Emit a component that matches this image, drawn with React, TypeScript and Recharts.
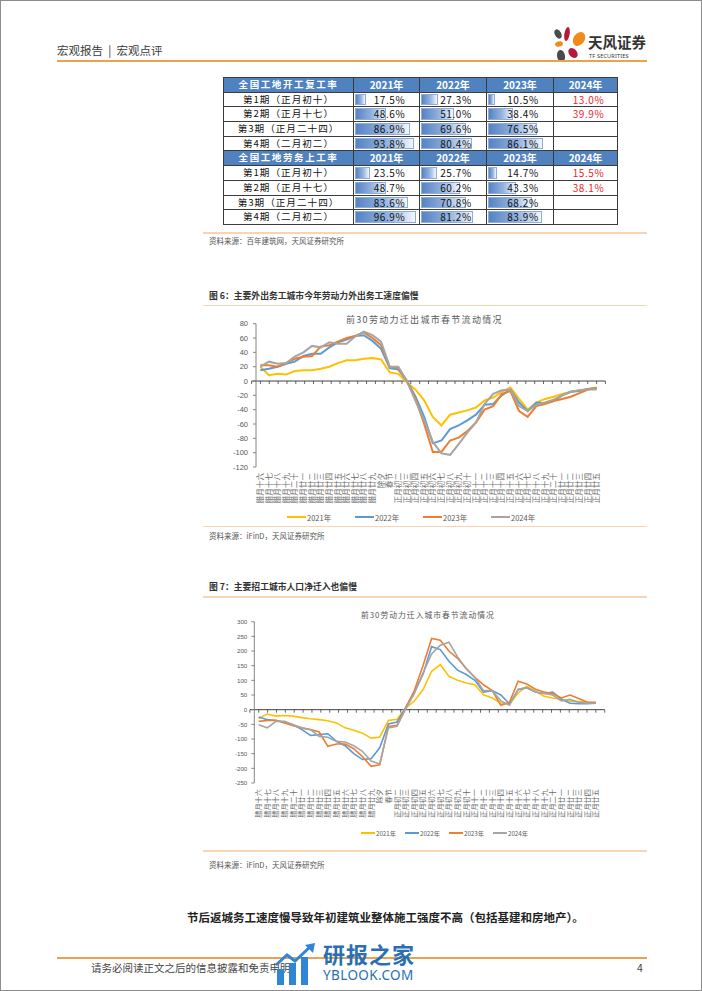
import React from "react";
import { LineChart, Line, XAxis, YAxis, ReferenceLine, Legend } from "recharts";

// 春节前后日期（农历）
const days = [
  "腊月十六", "腊月十七", "腊月十八", "腊月十九", "腊月二十", "腊月廿一", "腊月廿二",
  "腊月廿三", "腊月廿四", "腊月廿五", "腊月廿六", "腊月廿七", "腊月廿八", "腊月廿九",
  "除夕", "春节", "正月初二", "正月初三", "正月初四", "正月初五", "正月初六", "正月初七",
  "正月初八", "正月初九", "正月初十", "正月十一", "正月十二", "正月十三", "正月十四",
  "正月十五", "正月十六", "正月十七", "正月十八", "正月十九", "正月二十", "正月廿一",
  "正月廿二", "正月廿三", "正月廿四", "正月廿五",
];
const years = ["2021年", "2022年", "2023年", "2024年"];
const colors = ["#FFC000", "#5B9BD5", "#ED7D31", "#A5A5A5"];

// 图6 迁出
const out2021 = [20, 8, 10, 9, 14, 15, 15, 17, 20, 25, 29, 29, 31, 32, 30, 12, 10, -2, -12, -27, -50, -62, -47, -44, -41, -37, -27, -23, -15, -9, -25, -40, -30, -25, -22, -18, -15, -13, -11, -9];
const out2022 = [15, 17, 20, 24, 27, 35, 38, 38, 47, 54, 58, 63, 64, 56, 45, 18, 16, 0, -22, -50, -87, -83, -67, -62, -55, -47, -33, -32, -20, -12, -30, -42, -30, -31, -28, -20, -15, -14, -11, -10];
const out2023 = [22, 22, 20, 25, 31, 34, 35, 48, 50, 55, 60, 63, 68, 60, 50, 20, 18, 0, -25, -60, -99, -99, -83, -79, -70, -58, -40, -35, -18, -14, -42, -50, -35, -32, -28, -25, -22, -17, -12, -10];
const out2024 = [20, 27, 24, 25, 34, 40, 49, 47, 54, 52, 52, 62, 69, 64, 55, 20, 20, 0, -28, -55, -85, -101, -103, -88, -72, -58, -32, -18, -13, -12, -35, -42, -33, -30, -26, -20, -15, -13, -12, -12];
const outTicks = [80, 60, 40, 20, 0, -20, -40, -60, -80, -100, -120];

// 图7 迁入
const in2021 = [-30, -15, -22, -20, -22, -27, -31, -34, -38, -45, -62, -70, -80, -97, -93, -37, -33, 5, 30, 68, 131, 154, 114, 100, 91, 85, 51, 40, 23, 19, 57, 80, 63, 46, 40, 36, 28, 28, 25, 23];
const in2022 = [-25, -34, -37, -43, -51, -68, -88, -85, -82, -108, -123, -150, -170, -167, -130, -49, -42, 8, 60, 120, 215, 205, 165, 135, 120, 100, 60, 65, 50, 20, 68, 75, 60, 55, 60, 35, 22, 20, 20, 22];
const in2023 = [-40, -37, -36, -45, -55, -62, -68, -76, -125, -117, -117, -133, -160, -193, -188, -57, -53, 5, 65, 150, 243, 237, 200, 175, 140, 110, 85, 65, 15, 25, 97, 88, 70, 60, 55, 40, 50, 38, 25, 25];
const in2024 = [-51, -62, -40, -40, -51, -62, -68, -91, -94, -108, -110, -123, -142, -175, -185, -62, -57, 3, 55, 125, 190, 220, 230, 180, 140, 110, 65, 65, 30, 15, 70, 75, 60, 55, 50, 30, 35, 25, 22, 22];
const inTicks = [300, 250, 200, 150, 100, 50, 0, -50, -100, -150, -200, -250];

// 表格
const periods = ["第1期（正月初十）", "第2期（正月十七）", "第3期（正月二十四）", "第4期（二月初二）"];
const resume2021 = [17.5, 48.6, 86.9, 93.8];
const resume2022 = [27.3, 51.0, 69.6, 80.4];
const resume2023 = [10.5, 38.4, 76.5, 86.1];
const resume2024 = [13.0, 39.9, null, null];
const labor2021 = [23.5, 48.7, 83.6, 96.9];
const labor2022 = [25.7, 60.2, 70.8, 81.2];
const labor2023 = [14.7, 43.3, 68.2, 83.9];
const labor2024 = [15.5, 38.1, null, null];

const FONT = '"Noto Sans CJK SC", "Noto Sans", sans-serif';

function buildRows(series: number[][]) {
  return days.map((d, i) => {
    const row: any = { day: d };
    years.forEach((y, k) => (row[y] = series[k][i]));
    return row;
  });
}

const zeroAxis = (count: number) => (props: any) => {
  const { x1, x2, y1 } = props;
  const band = (x2 - x1) / (count - 1);
  const start = x1 - band / 2;
  const marks = Array.from({ length: count + 1 }, (_, k) => start + k * band);
  return (
    <g>
      <line x1={start} x2={start + count * band} y1={y1} y2={y1} stroke="#404040" strokeWidth={1} />
      {marks.map((m, k) => (
        <line key={k} x1={m} x2={m} y1={y1} y2={y1 + 3} stroke="#404040" strokeWidth={0.8} />
      ))}
    </g>
  );
};

type ChartProps = {
  data: any[];
  ticks: number[];
  width: number;
  height: number;
  margin: { top: number; right: number; left: number; bottom: number };
  strokeWidth: number;
  tickFont: number;
  dayFont: number;
  legendFont: number;
  legendLeft: number;
  legendItem: number;
  legendLine: number;
  xHeight: number;
  tickMargin: number;
};

function FlowChart(p: ChartProps) {
  const DayTick = (t: any) => (
    <text
      x={t.x}
      y={t.y}
      transform={`rotate(-90 ${t.x} ${t.y})`}
      textAnchor="end"
      dy="0.35em"
      fontSize={p.dayFont}
      fill="#6a6a6a"
      fontFamily={FONT}
    >
      {t.payload.value}
    </text>
  );
  const band = (p.width - p.margin.left - p.margin.right - 40) / days.length;
  return (
    <LineChart width={p.width} height={p.height} data={p.data} margin={p.margin}>
      <XAxis
        dataKey="day"
        interval={0}
        axisLine={false}
        tickLine={false}
        tickSize={0}
        tickMargin={6}
        height={p.xHeight}
        padding={{ left: band / 2, right: band / 2 }}
        tick={DayTick}
      />
      <YAxis
        type="number"
        domain={[p.ticks[p.ticks.length - 1], p.ticks[0]]}
        ticks={p.ticks}
        interval={0}
        width={40}
        tickSize={3}
        tickMargin={p.tickMargin}
        axisLine={{ stroke: "#868686" }}
        tickLine={{ stroke: "#868686" }}
        tick={{ fontSize: p.tickFont, fill: "#595959", fontFamily: "Liberation Sans, Arial, sans-serif" }}
      />
      <ReferenceLine y={0} shape={zeroAxis(days.length)} />
      {years.map((y, k) => (
        <Line
          key={y}
          type="linear"
          dataKey={y}
          name={y}
          stroke={colors[k]}
          strokeWidth={p.strokeWidth}
          dot={false}
          isAnimationActive={false}
        />
      ))}
      <Legend
        verticalAlign="bottom"
        height={16}
        wrapperStyle={{ left: p.legendLeft, width: p.legendItem * 4, height: 16 }}
        content={(lp: any) => (
          <div style={{ display: "flex", height: 16, alignItems: "center" }}>
            {(lp.payload || []).map((it: any) => (
              <div key={it.value} style={{ width: p.legendItem, display: "flex", alignItems: "center" }}>
                <span style={{ display: "inline-block", width: p.legendLine, height: 2, background: it.color }} />
                <span style={{ fontSize: p.legendFont, color: "#595959", fontFamily: FONT, marginLeft: 1 }}>
                  {it.value}
                </span>
              </div>
            ))}
          </div>
        )}
      />
    </LineChart>
  );
}

function Txt(props: { x: number; y: number; size: number; children: any; style?: React.CSSProperties }) {
  return (
    <div
      style={{
        position: "absolute",
        left: props.x,
        top: props.y - props.size / 2,
        fontSize: props.size,
        lineHeight: `${props.size}px`,
        whiteSpace: "pre",
        ...props.style,
      }}
    >
      {props.children}
    </div>
  );
}

const Rule = ({ y, x1, x2, h, c }: { y: number; x1: number; x2: number; h: number; c: string }) => (
  <div style={{ position: "absolute", left: x1, top: y, width: x2 - x1, height: h, background: c }} />
);

const HEAD = "#5082C0";
const colW = [129, 65, 66, 66, 63];

function Cell({ v, red }: { v: number | null; red?: boolean }) {
  return (
    <div style={{ position: "relative", background: "#fff" }}>
      {v != null && !red && (
        <div
          style={{
            position: "absolute",
            left: 1,
            top: 1,
            bottom: 1,
            width: `calc((100% - 2px) * ${v / 100})`,
            background: "linear-gradient(90deg, #5683c4 0%, #93b3df 55%, #f4f7fc 100%)",
            boxSizing: "border-box",
            border: "1px solid #8eacda",
          }}
        />
      )}
      {v != null && (
        <div
          style={{
            position: "relative",
            textAlign: "center",
            fontSize: 10,
            lineHeight: "13.7px",
            color: red ? "#e8262b" : "#111",
            letterSpacing: 0.6,
            paddingLeft: 6,
          }}
        >
          {v.toFixed(1)}%
        </div>
      )}
    </div>
  );
}

function TableBlock() {
  const blocks = [
    { title: "全国工地开工复工率", s: [resume2021, resume2022, resume2023, resume2024] },
    { title: "全国工地劳务上工率", s: [labor2021, labor2022, labor2023, labor2024] },
  ];
  return (
    <div
      style={{
        position: "absolute",
        left: 222,
        top: 76,
        display: "grid",
        gridTemplateColumns: colW.map((w) => `${w}px`).join(" "),
        gridAutoRows: "13.7px",
        gap: 1,
        padding: 1,
        background: "#3c3c3c",
        fontFamily: FONT,
      }}
    >
      {blocks.map((b) => (
        <React.Fragment key={b.title}>
          <div style={{ background: HEAD, color: "#fff", fontWeight: 700, fontSize: 9.5, letterSpacing: 1.6, textAlign: "center", lineHeight: "13.7px" }}>
            {b.title}
          </div>
          {years.map((y) => (
            <div key={y} style={{ background: HEAD, color: "#fff", fontWeight: 700, fontSize: 10, textAlign: "center", lineHeight: "13.7px" }}>
              {y}
            </div>
          ))}
          {periods.map((pd, r) => (
            <React.Fragment key={pd}>
              <div style={{ background: "#fff", fontSize: 9.6, letterSpacing: 1, textAlign: "center", lineHeight: "13.7px", color: "#111" }}>
                {pd}
              </div>
              {b.s.map((ser, k) => (
                <Cell key={k} v={ser[r]} red={k === 3} />
              ))}
            </React.Fragment>
          ))}
        </React.Fragment>
      ))}
    </div>
  );
}

function Logo() {
  return (
    <svg style={{ position: "absolute", left: 550, top: 22 }} width={38} height={42} viewBox="0 0 38 42">
      <ellipse cx={7} cy={11} rx={3.2} ry={5} fill="#4a4a4a" transform="rotate(-30 7 11)" />
      <ellipse cx={16} cy={11} rx={2.6} ry={7} fill="#b5173b" transform="rotate(10 16 11)" />
      <ellipse cx={28} cy={16} rx={5.5} ry={7.5} fill="#f08a1c" transform="rotate(35 28 16)" />
      <ellipse cx={8} cy={21} rx={4} ry={2.6} fill="#f08a1c" transform="rotate(-15 8 21)" />
      <ellipse cx={10} cy={33} rx={4} ry={6} fill="#4a4a4a" transform="rotate(-10 10 33)" />
      <ellipse cx={22} cy={30} rx={4} ry={5.5} fill="#b5173b" transform="rotate(-40 22 30)" />
    </svg>
  );
}

function Watermark() {
  return (
    <>
      <svg style={{ position: "absolute", left: 274, top: 942 }} width={42} height={42} viewBox="0 0 42 42">
        <rect x={2} y={26} width={7} height={16} fill="#2f86d6" />
        <rect x={14} y={20} width={7} height={22} fill="#2f86d6" />
        <rect x={26} y={14} width={7} height={28} fill="#2f86d6" />
        <polyline points="1,22 12,12 20,18 36,3" fill="none" stroke="#2f86d6" strokeWidth={3} />
        <polygon points="30,2 40,0 38,10" fill="#2f86d6" />
      </svg>
      <Txt x={322} y={952} size={22} style={{ color: "#2a6fb4", fontWeight: 700, letterSpacing: 1 }}>
        研报之家
      </Txt>
      <Txt x={322} y={975} size={13.5} style={{ color: "#2a6fb4", fontFamily: '"Noto Sans", sans-serif', letterSpacing: 0.4 }}>
        YBLOOK.COM
      </Txt>
    </>
  );
}

export default function App() {
  const outRows = buildRows([out2021, out2022, out2023, out2024]);
  const inRows = buildRows([in2021, in2022, in2023, in2024]);
  return (
    <div
      style={{
        position: "relative",
        width: 702,
        height: 991,
        boxSizing: "border-box",
        border: "1px solid #8c8c8c",
        background: "#fff",
        overflow: "hidden",
        fontFamily: FONT,
        color: "#333",
      }}
    >
      <style>{"body{margin:0}"}</style>

      <Txt x={56} y={50} size={11.5} style={{ color: "#3a3a3a" }}>
        {"宏观报告  |  宏观点评"}
      </Txt>
      <Logo />
      <Txt x={587} y={41.5} size={14.5} style={{ fontWeight: 700, color: "#333" }}>
        天风证券
      </Txt>
      <Txt x={588} y={56} size={5.5} style={{ color: "#333", fontFamily: '"Noto Sans", sans-serif', letterSpacing: 0.2 }}>
        TF SECURITIES
      </Txt>
      <Rule y={59} x1={56} x2={646} h={2} c="#E9A24F" />

      <TableBlock />
      <Rule y={231} x1={202} x2={646} h={1.5} c="#F7D5B4" />
      <Txt x={208} y={240} size={7.5} style={{ color: "#555" }}>
        资料来源：百年建筑网，天风证券研究所
      </Txt>

      <Txt x={208} y={295} size={8.8} style={{ fontWeight: 700, color: "#333" }}>
        图 6：主要外出务工城市今年劳动力外出务工速度偏慢
      </Txt>
      <Rule y={303.5} x1={202} x2={646} h={1.5} c="#F7D5B4" />
      <Txt x={345} y={318} size={9} style={{ color: "#595959", letterSpacing: 1.3 }}>
        前30劳动力迁出城市春节流动情况
      </Txt>
      <div style={{ position: "absolute", left: 170, top: 305 }}>
        <FlowChart
          data={outRows}
          ticks={outTicks}
          width={450}
          height={219}
          margin={{ top: 17.7, right: 20, left: 45, bottom: 0 }}
          strokeWidth={2}
          tickFont={7.5}
          dayFont={7.6}
          legendFont={7.5}
          legendLeft={116}
          legendItem={68}
          legendLine={19}
          xHeight={42}
          tickMargin={5}
        />
      </div>
      <Rule y={524.5} x1={202} x2={646} h={1.5} c="#F7D5B4" />
      <Txt x={208} y={535} size={7.5} style={{ color: "#555" }}>
        资料来源：iFinD，天风证券研究所
      </Txt>

      <Txt x={208} y={586} size={8.8} style={{ fontWeight: 700, color: "#333" }}>
        图 7：主要招工城市人口净迁入也偏慢
      </Txt>
      <Rule y={595} x1={202} x2={646} h={1.5} c="#F7D5B4" />
      <Txt x={360} y={614} size={7.8} style={{ color: "#595959", letterSpacing: 1 }}>
        前30劳动力迁入城市春节流动情况
      </Txt>
      <div style={{ position: "absolute", left: 170, top: 605 }}>
        <FlowChart
          data={inRows}
          ticks={inTicks}
          width={450}
          height={235}
          margin={{ top: 15.7, right: 20.7, left: 43.3, bottom: 0 }}
          strokeWidth={1.6}
          tickFont={6.2}
          dayFont={7.2}
          legendFont={6.2}
          legendLeft={190}
          legendItem={44}
          legendLine={14}
          xHeight={42}
          tickMargin={4}
        />
      </div>
      <Rule y={849} x1={202} x2={646} h={1.5} c="#F7D5B4" />
      <Txt x={208} y={864} size={7.5} style={{ color: "#555" }}>
        资料来源：iFinD，天风证券研究所
      </Txt>

      <Txt x={186} y={917} size={11.5} style={{ fontWeight: 700, color: "#222" }}>
        节后返城务工速度慢导致年初建筑业整体施工强度不高（包括基建和房地产）。
      </Txt>

      <Rule y={956} x1={56} x2={646} h={2} c="#E9A24F" />
      <Txt x={90} y={967} size={10.5} style={{ color: "#444" }}>
        请务必阅读正文之后的信息披露和免责申明
      </Txt>
      <Txt x={636} y={967} size={10.5} style={{ color: "#444" }}>
        4
      </Txt>
      <Watermark />
    </div>
  );
}
